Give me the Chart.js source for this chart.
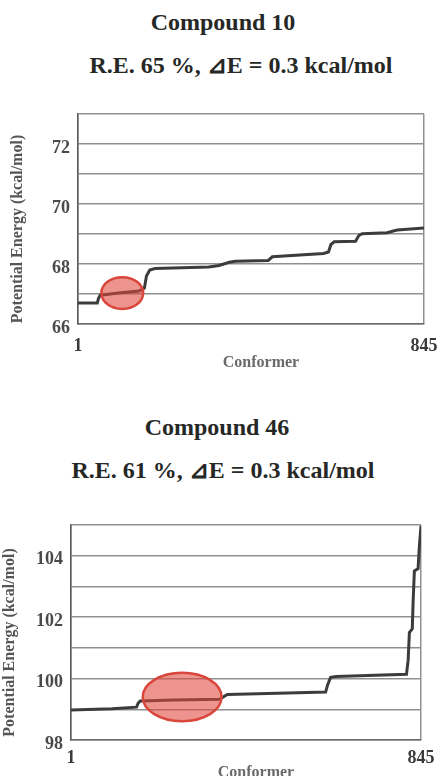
<!DOCTYPE html>
<html>
<head>
<meta charset="utf-8">
<script src="https://cdn.jsdelivr.net/npm/chart.js@4"></script>
<style>
  html, body { margin: 0; padding: 0; background: #fff; overflow: hidden; }
  body { width: 443px; height: 776px; position: relative; }
  .ttl { position: absolute; transform: translateX(-50%); white-space: nowrap;
         font-family: "Liberation Serif", serif; font-weight: bold; font-size: 24px;
         line-height: 28px; color: #262826; }
  canvas { position: absolute; left: 0; }
</style>
</head>
<body>
<div class="ttl" style="left:223px; top:8px;">Compound 10</div>
<div class="ttl" style="left:241px; top:51px;">R.E. 65 %, ⊿E = 0.3 kcal/mol</div>
<div class="ttl" style="left:217px; top:413px;">Compound 46</div>
<div class="ttl" style="left:223px; top:456px;">R.E. 61 %, ⊿E = 0.3 kcal/mol</div>

<canvas id="chart10" width="443" height="272" style="top:100px"></canvas>
<canvas id="chart46" width="443" height="272" style="top:510px"></canvas>

<script>
// conformer axis
const xTicks = [1, 845];

// compound 10 (sorted conformer energies)
const conf10 = [1, 48, 51, 55, 100, 150, 163, 168, 176, 189, 320, 345, 370, 385, 465, 475, 600, 612, 618, 626, 678, 686, 694, 755, 770, 780, 845];
const energy10 = [66.70, 66.70, 66.85, 66.96, 67.03, 67.10, 67.20, 67.60, 67.80, 67.85, 67.90, 67.95, 68.06, 68.09, 68.12, 68.24, 68.35, 68.40, 68.65, 68.74, 68.76, 68.95, 69.01, 69.04, 69.10, 69.13, 69.20];
const yLabels10 = [66, 68, 70, 72];
// highlighted region: centre conformer, centre energy, half width, half height
const mark10 = [109, 67.03, 51, 0.53];

// compound 46
const conf46 = [1, 100, 159, 163, 168, 250, 360, 368, 378, 500, 615, 620, 627, 640, 810, 814, 817, 824, 826, 829, 838, 841, 845];
const energy46 = [98.98, 99.02, 99.07, 99.20, 99.27, 99.30, 99.33, 99.40, 99.48, 99.52, 99.56, 99.80, 100.04, 100.07, 100.14, 100.60, 101.50, 101.62, 102.50, 103.50, 103.58, 104.30, 104.97];
const yLabels46 = [98, 100, 102, 104];
const mark46 = [269, 99.4, 95, 0.79];

const ellipsePlugin = {
    id: "ellipse",
    afterDatasetsDraw(chart, args, opts) {
        const m = opts.mark;
        if (!m) return;
        const xs = chart.scales.x, ys = chart.scales.y;
        const cx = xs.getPixelForValue(m[0]);
        const cy = ys.getPixelForValue(m[1]);
        const rx = Math.abs(xs.getPixelForValue(m[0] + m[2]) - cx);
        const ry = Math.abs(ys.getPixelForValue(m[1] + m[3]) - cy);
        const ctx = chart.ctx;
        ctx.save();
        ctx.beginPath();
        ctx.ellipse(cx, cy, rx, ry, 0, 0, Math.PI * 2);
        ctx.fillStyle = "rgba(222, 70, 58, 0.58)";
        ctx.fill();
        ctx.lineWidth = 2.5;
        ctx.strokeStyle = "#d9473c";
        ctx.stroke();
        ctx.restore();
    }
};

function makeChart(id, conf, energy, yMin, yMax, yLabels, mark, lay) {
    const pts = conf.map((c, i) => ({ x: c, y: energy[i] }));
    const tickFont = { family: "Liberation Serif", weight: "bold", size: 18 };
    const titleFont = { family: "Liberation Serif", weight: "bold", size: 16 };
    return new Chart(document.getElementById(id), {
        type: "line",
        data: {
            datasets: [{
                data: pts,
                borderColor: "#3a3d3a",
                borderWidth: 3,
                pointRadius: 0,
                tension: 0
            }]
        },
        options: {
            responsive: false,
            animation: false,
            events: [],
            layout: { padding: { top: lay.top, right: lay.right, left: 0, bottom: 0 } },
            plugins: {
                legend: { display: false },
                tooltip: { enabled: false },
                ellipse: { mark: mark }
            },
            scales: {
                x: {
                    type: "linear",
                    min: 1,
                    max: 845,
                    afterBuildTicks: axis => { axis.ticks = xTicks.map(v => ({ value: v })); },
                    afterFit: axis => {
                        axis.height = lay.xh;
                        axis.paddingLeft = 0;
                        axis.paddingRight = 0;
                    },
                    grid: { color: "#8f918f", lineWidth: 1.5, drawTicks: false },
                    border: { color: "#6a6a6a", width: 1.5 },
                    ticks: { font: tickFont, color: "#3a3a3a", padding: lay.xpad, maxRotation: 0, autoSkip: false },
                    // leading space nudges the title right, as in the original figure
                    title: { display: true, text: "\u2003 Conformer", font: titleFont, color: "#6a6a6a", padding: 0 }
                },
                y: {
                    min: yMin,
                    max: yMax,
                    afterFit: axis => {
                        axis.width = lay.yw;
                        axis.paddingTop = 0;
                        axis.paddingBottom = 0;
                    },
                    grid: { color: "#8f918f", lineWidth: 1.5, drawTicks: false },
                    border: { color: "#5a5a5a", width: 1.5 },
                    ticks: {
                        stepSize: 1,
                        font: tickFont,
                        color: "#4a4a4a",
                        padding: 8,
                        labelOffset: 4,
                        callback: v => yLabels.includes(v) ? String(v) : ""
                    },
                    title: { display: true, text: "Potential Energy (kcal/mol)\u2003 ", font: titleFont, color: "#555", padding: { top: lay.ytp, bottom: 0 } }
                }
            }
        },
        plugins: [ellipsePlugin]
    });
}

makeChart("chart10", conf10, energy10, 66, 73, yLabels10, mark10,
    { top: 14, right: 19, yw: 78, xh: 48, xpad: 12, ytp: 8 });
makeChart("chart46", conf46, energy46, 98, 105, yLabels46, mark46,
    { top: 15, right: 22, yw: 71, xh: 42, xpad: 8, ytp: 0 });
</script>
</body>
</html>
